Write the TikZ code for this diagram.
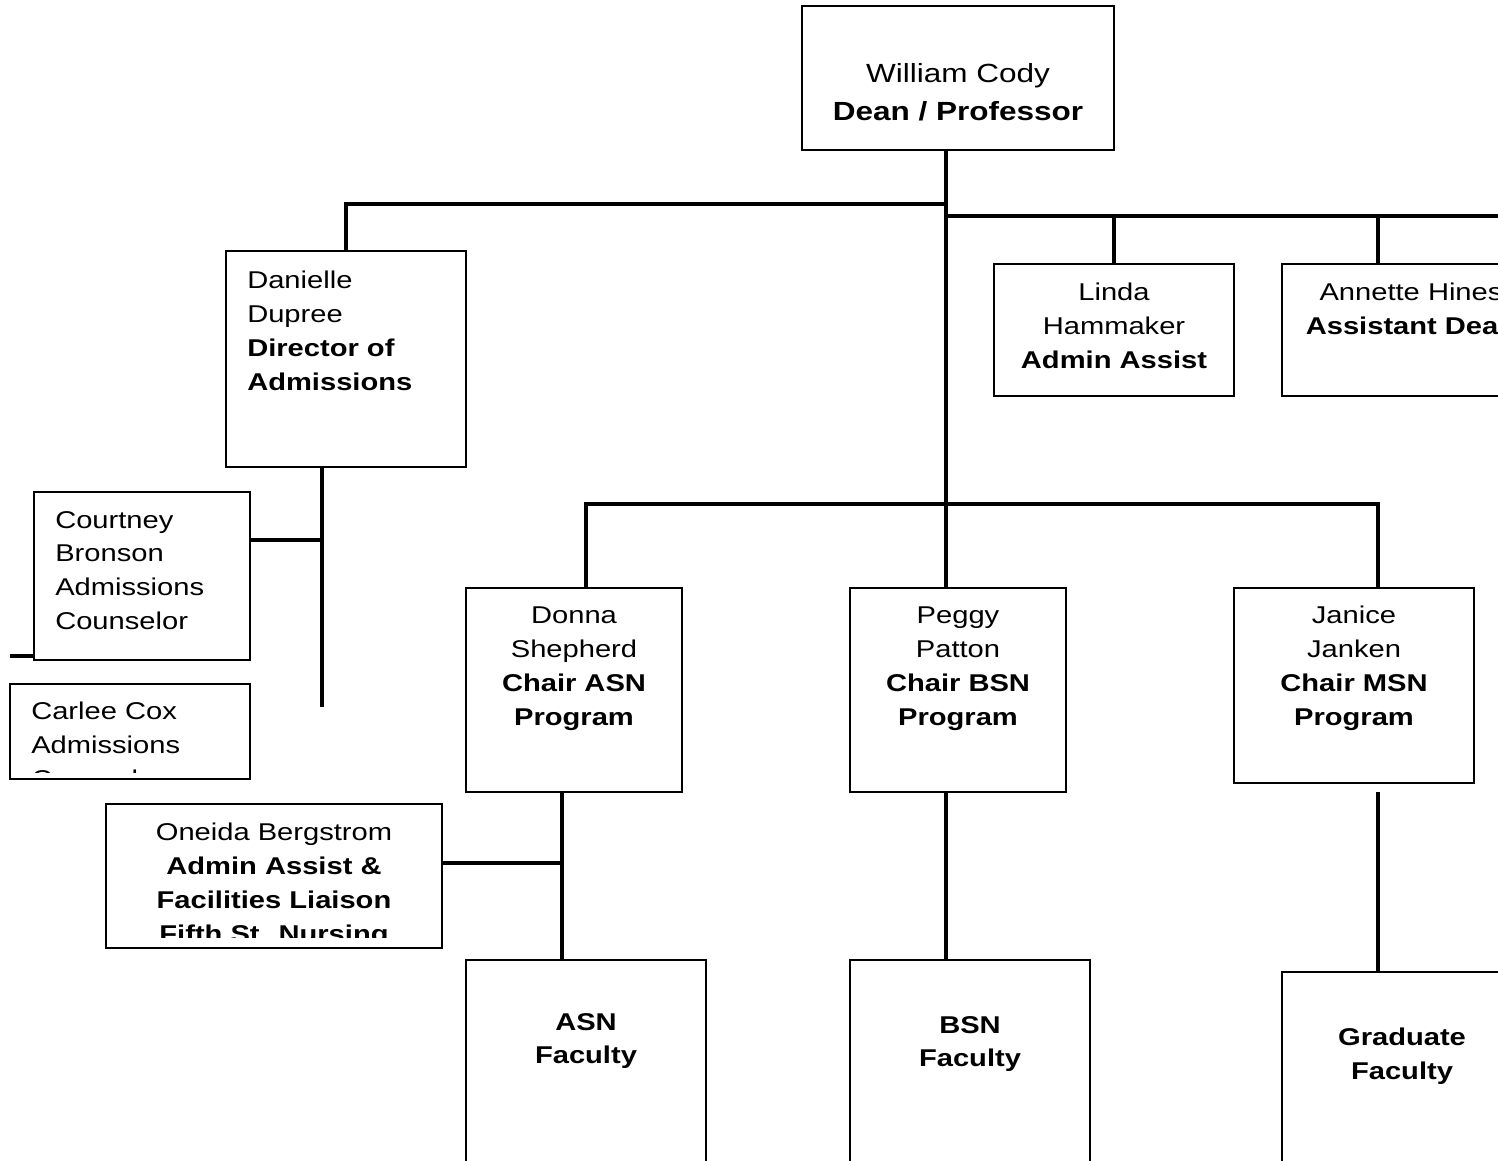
\documentclass[tikz,border=0pt]{standalone}
\usepackage{fontspec}
\setmainfont[FakeStretch=1.2]{Liberation Sans}
\usetikzlibrary{fit}
\begin{document}
\begin{tikzpicture}[x=0.75pt,y=-0.75pt,
  box/.style={draw,line width=1.5pt,inner sep=0pt,fill=white},
  conn/.style={line width=3.2pt},
  txt/.style={inner sep=0pt,font=\fontsize{18.2}{25.3}\selectfont,align=center,anchor=north},
  txtl/.style={txt,align=left,anchor=north west}]
\useasboundingbox (0,0) rectangle (1498,1160);
\clip (0,0) rectangle (1498,1160);
% boxes
\node[box,fit={(802,6) (1114,150)}] (dean) {};
\node[box,fit={(226,251) (466,467)}] (danielle) {};
\node[box,fit={(994,264) (1234,396)}] (linda) {};
\node[box,fit={(1282,264) (1540,396)}] (annette) {};
\node[box,fit={(34,492) (250,660)}] (courtney) {};
\node[box,fit={(10,684) (250,779)}] (carlee) {};
\node[box,fit={(106,804) (442,948)}] (oneida) {};
\node[box,fit={(466,588) (682,792)}] (donna) {};
\node[box,fit={(850,588) (1066,792)}] (peggy) {};
\node[box,fit={(1234,588) (1474,783)}] (janice) {};
\node[box,fit={(466,960) (706,1200)}] (asn) {};
\node[box,fit={(850,960) (1090,1200)}] (bsn) {};
\node[box,fit={(1282,972) (1522,1200)}] (grad) {};
% junction coordinates
\coordinate (deanfoot) at (946,150);
\coordinate (busA) at (946,204);
\coordinate (busB) at (946,216);
\coordinate (busBend) at (1498,216);
\coordinate (annIn) at (1378,264);
\coordinate (busC) at (946,504);
\coordinate (dnIn) at (586,588);
\coordinate (jnIn) at (1378,588);
\coordinate (dnOut) at (562,792);
\coordinate (onOut) at (442,863);
\coordinate (jnOut) at (1378,792);
\coordinate (daOut) at (322,467);
\coordinate (daEnd) at (322,707);
\coordinate (coOut) at (250,540);
\coordinate (stub) at (10,656);
% connectors
\draw[conn] (deanfoot) -- (deanfoot |- peggy.north);
\draw[conn] (busA) -| (danielle.north);
\draw[conn] (busB) -- (busBend);
\draw[conn] (linda.north) -- (linda.north |- busB);
\draw[conn] (annIn) -- (annIn |- busB);
\draw[conn] (dnIn) |- (busC) -| (jnIn);
\draw[conn] (deanfoot |- peggy.south) -- (deanfoot |- bsn.north);
\draw[conn] (dnOut) -- (dnOut |- asn.north);
\draw[conn] (onOut) -- (onOut -| dnOut);
\draw[conn] (jnOut) -- (jnOut |- grad.north);
\draw[conn] (daOut) -- (daEnd);
\draw[conn] (coOut) -- (coOut -| daOut);
\draw[conn] (stub) -- (stub -| courtney.west);
% texts
\node[txt,font=\fontsize{19.7}{28.5}\selectfont] (deanT) at (958,63) {William Cody\\\textbf{Dean / Professor}};
\node[txtl] (danielleT) at (247,271) {Danielle\\Dupree\\\textbf{Director of}\\\textbf{Admissions}};
\node[txt] (lindaT) at (1114,283) {Linda\\Hammaker\\\textbf{Admin Assist}};
\node[txt] (annetteT) at (1411,283) {Annette Hines\\\textbf{Assistant Dean}};
\node[txtl] (courtneyT) at (55,511) {Courtney\\Bronson\\Admissions\\Counselor};
\begin{scope}
\clip (12,686) rectangle (248,772);
\node[txtl] (carleeT) at (31,702) {Carlee Cox\\Admissions\\Counselor};
\end{scope}
\begin{scope}
\clip (108,806) rectangle (440,937);
\node[txt] (oneidaT) at (274,823) {Oneida Bergstrom\\\textbf{Admin Assist \&}\\\textbf{Facilities Liaison}\\\textbf{Fifth St. Nursing}};
\end{scope}
\node[txt] (donnaT) at (574,607) {Donna\\Shepherd\\\textbf{Chair ASN}\\\textbf{Program}};
\node[txt] (peggyT) at (958,607) {Peggy\\Patton\\\textbf{Chair BSN}\\\textbf{Program}};
\node[txt] (janiceT) at (1354,606) {Janice\\Janken\\\textbf{Chair MSN}\\\textbf{Program}};
\node[txt] (asnT) at (586,1013) {\textbf{ASN}\\\textbf{Faculty}};
\node[txt] (bsnT) at (970,1016) {\textbf{BSN}\\\textbf{Faculty}};
\node[txt] (gradT) at (1402,1028) {\textbf{Graduate}\\\textbf{Faculty}};
\end{tikzpicture}
\end{document}
